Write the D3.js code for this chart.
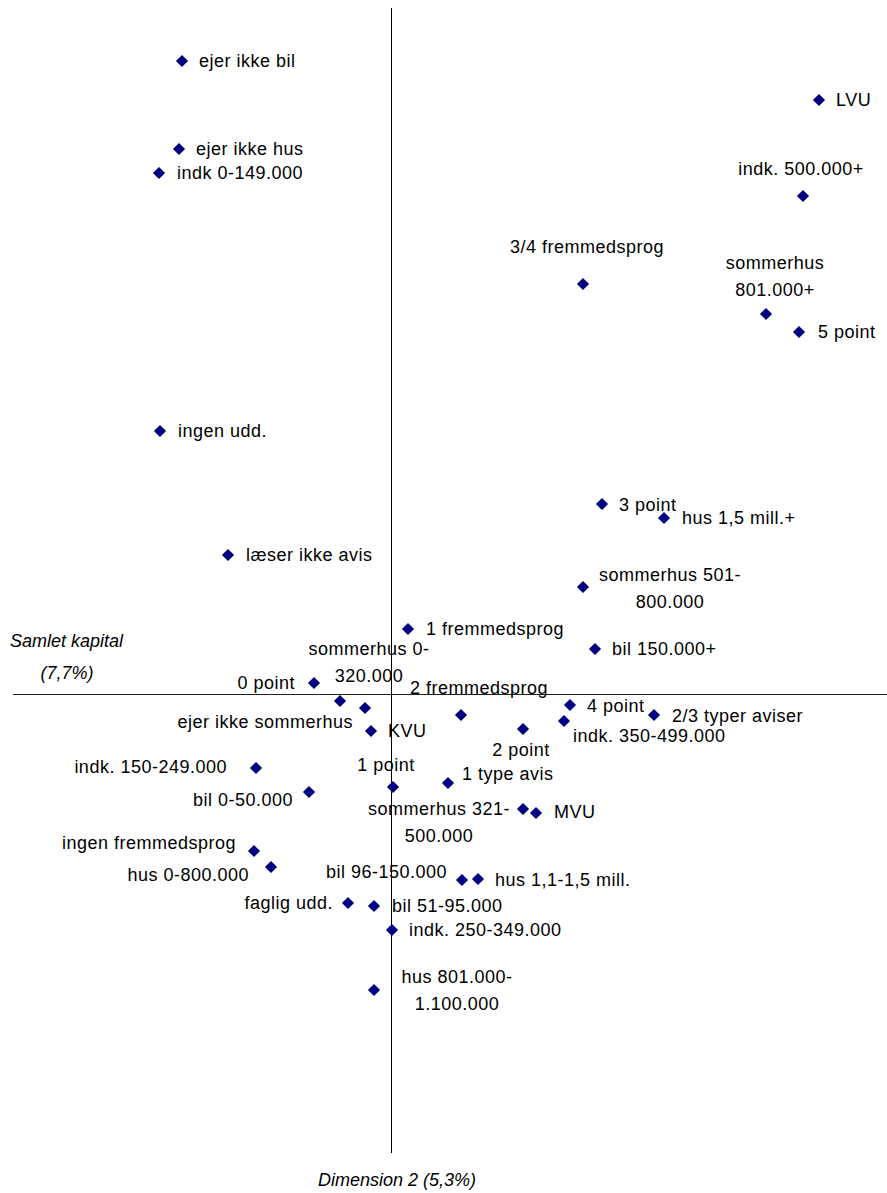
<!DOCTYPE html>
<html>
<head>
<meta charset="utf-8">
<script src="https://cdn.jsdelivr.net/npm/d3@7"></script>
<style>
  html, body { margin: 0; padding: 0; background: #fff; }
  svg { display: block; }
  text { font-family: "Liberation Sans", Arial, Helvetica, sans-serif; fill: #000; }
</style>
</head>
<body>
<svg id="chart" width="887" height="1193"></svg>
<script>
// ---- data ----
const categories = [
  "ejer ikke bil", "LVU", "ejer ikke hus", "indk 0-149.000", "indk. 500.000+",
  "3/4 fremmedsprog", "sommerhus\n801.000+", "5 point", "ingen udd.", "3 point",
  "hus 1,5 mill.+", "læser ikke avis", "sommerhus 501-\n800.000", "1 fremmedsprog", "bil 150.000+",
  "0 point", "sommerhus 0-\n320.000", "ejer ikke sommerhus", "2 fremmedsprog", "4 point",
  "2/3 typer aviser", "2 point", "indk. 350-499.000", "KVU", "indk. 150-249.000",
  "1 point", "1 type avis", "bil 0-50.000", "sommerhus 321-\n500.000", "MVU",
  "ingen fremmedsprog", "hus 0-800.000", "bil 96-150.000", "hus 1,1-1,5 mill.", "faglig udd.",
  "bil 51-95.000", "indk. 250-349.000", "hus 801.000-\n1.100.000"
];
// Samlet kapital (horizontal dimension)
const kapital = [
  -2.09, 4.28, -2.12, -2.32, 4.12,
  1.92, 3.75, 4.08, -2.31, 2.11,
  2.73, -1.63, 1.92, 0.17, 2.04,
  -0.77, -0.51, -0.26, 0.70, 1.79,
  2.63, 1.32, 1.73, -0.20, -1.35,
  0.02, 0.57, -0.82, 1.32, 1.45,
  -1.37, -1.20, 0.71, 0.87, -0.43,
  -0.17, 0.01, -0.17
];
// Dimension 2 (vertical dimension)
const dimension2 = [
  6.33, 5.94, 5.45, 5.21, 4.98,
  4.10, 3.80, 3.62, 2.63, 1.90,
  1.76, 1.39, 1.07, 0.65, 0.45,
  0.11, -0.07, -0.14, -0.21, -0.11,
  -0.21, -0.35, -0.27, -0.37, -0.74,
  -0.93, -0.89, -0.98, -1.15, -1.19,
  -1.57, -1.73, -1.86, -1.85, -2.09,
  -2.12, -2.36, -2.96
];
const axisTitleX = ["Samlet kapital", "(7,7%)"];
const axisTitleY = "Dimension 2 (5,3%)";

// ---- label placement (anchor, dx, dy relative to marker) ----
const labelLayout = [
  ["start", 17, 0], ["start", 17, 0], ["start", 17, 0], ["start", 18, 0], ["middle", -2, -27],
  ["middle", 4, -37], ["middle", 9, -51], ["start", 19, 0], ["start", 18, 0], ["start", 17, 1],
  ["start", 18, 0], ["start", 18, 0], ["middle", 87, -12], ["start", 18, 0], ["start", 17, 0],
  ["end", -19, 0], ["middle", 29, -52], ["end", -12, 14], ["middle", 18, -27], ["start", 17, 1],
  ["start", 18, 1], ["middle", -2, 21], ["start", 9, 15], ["start", 17, 0], ["end", -29, -1],
  ["middle", -7, -22], ["start", 14, -9], ["end", -16, 8], ["middle", -84, 0], ["start", 18, -1],
  ["end", -18, -8], ["end", -22, 8], ["end", -15, -8], ["start", 17, 1], ["end", -15, 0],
  ["start", 18, 0], ["start", 17, 0], ["middle", 83, -13]
];
const lineGap = 27;

const svg = d3.select("#chart");

const x = d3.scaleLinear().domain([-3.78, 4.96]).range([13, 887]);
const y = d3.scaleLinear().domain([-4.59, 6.86]).range([1153, 8]);

// axes through origin
svg.append("line")
  .attr("x1", x(-3.78)).attr("x2", x(4.96))
  .attr("y1", Math.round(y(0)) + 0.5).attr("y2", Math.round(y(0)) + 0.5)
  .attr("stroke", "#222").attr("stroke-width", 1);
svg.append("line")
  .attr("x1", Math.round(x(0)) + 0.5).attr("x2", Math.round(x(0)) + 0.5)
  .attr("y1", y(6.86)).attr("y2", y(-4.59))
  .attr("stroke", "#000").attr("stroke-width", 1);

const data = categories.map((c, i) => ({
  name: c, kx: kapital[i], dy2: dimension2[i], lay: labelLayout[i]
}));

const diamond = d3.symbol().type(d3.symbolSquare).size(74);

svg.append("g").selectAll("path")
  .data(data).join("path")
  .attr("d", diamond)
  .attr("transform", d => `translate(${x(d.kx)},${y(d.dy2)}) rotate(45)`)
  .attr("fill", "#000080");

const labels = svg.append("g").attr("font-size", 18).attr("letter-spacing", 0.5);
data.forEach(d => {
  const lines = d.name.split("\n");
  const [anchor, dx, dy] = d.lay;
  const t = labels.append("text")
    .attr("text-anchor", anchor);
  lines.forEach((ln, j) => {
    t.append("tspan")
      .attr("x", x(d.kx) + dx)
      .attr("y", y(d.dy2) + dy + j * lineGap)
      .attr("dy", "0.35em")
      .text(ln);
  });
});

// axis titles
svg.append("text")
  .attr("x", 10).attr("y", 641).attr("dy", "0.35em")
  .attr("font-size", 18).attr("font-style", "italic")
  .text(axisTitleX[0]);
svg.append("text")
  .attr("x", 67).attr("y", 673).attr("dy", "0.35em")
  .attr("text-anchor", "middle")
  .attr("font-size", 18).attr("font-style", "italic")
  .text(axisTitleX[1]);
svg.append("text")
  .attr("x", 397).attr("y", 1180).attr("dy", "0.35em")
  .attr("text-anchor", "middle")
  .attr("font-size", 18).attr("font-style", "italic")
  .text(axisTitleY);
</script>
</body>
</html>
